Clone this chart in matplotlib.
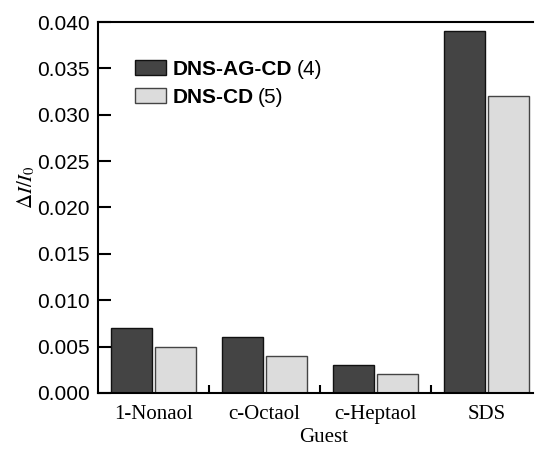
import numpy as np
import matplotlib.pyplot as plt

guests = ["1-Nonaol", "c-Octaol", "c-Heptaol", "SDS"]
dns_ag_cd = [0.007, 0.006, 0.003, 0.039]
dns_cd = [0.005, 0.004, 0.002, 0.032]
series_names = ["DNS-AG-CD", "DNS-CD"]
series_nums = ["(4)", "(5)"]

plt.rcParams['mathtext.fontset'] = 'stix'

fig = plt.figure(figsize=(5.35, 4.49), dpi=100)
ax = fig.add_axes([0.183, 0.125, 0.813, 0.826])

x = np.arange(len(guests))
w = 0.37
b1 = ax.bar(x - 0.2, dns_ag_cd, w, color="#444444", edgecolor="#111111", linewidth=1)
b2 = ax.bar(x + 0.2, dns_cd, w, color="#dcdcdc", edgecolor="#444444", linewidth=1)

ax.set_xlim(-0.5, 3.42)
ax.set_ylim(0, 0.040)
yt = np.arange(0, 0.0401, 0.005)
ax.set_yticks(yt)
ax.set_yticklabels([f"{v:.3f}" for v in yt], fontsize=15, family="Liberation Sans")
ax.set_xticks(x)
ax.set_xticklabels(guests, fontsize=15, family="Liberation Serif")
ax.set_xticks([0.5, 1.5, 2.5], minor=True)
ax.tick_params(axis="x", which="major", length=0, pad=9)
ax.tick_params(axis="x", which="minor", direction="in", length=6, width=1.5)
ax.tick_params(axis="y", direction="in", length=9, width=1.5, pad=6)
for s in ["left", "bottom", "top"]:
    ax.spines[s].set_linewidth(1.5)
ax.spines["right"].set_visible(False)

ax.set_xlabel("Guest", fontsize=15, family="Liberation Serif")
ax.xaxis.set_label_coords(0.52, -0.095)
ax.set_ylabel(r"$\Delta I/I_0$", fontsize=15)
ax.yaxis.set_label_coords(-0.14, 0.555)

leg = ax.legend([b1, b2], series_names, loc="upper left",
                bbox_to_anchor=(0.042, 0.948), frameon=False,
                handlelength=1.5, handleheight=0.72, handletextpad=0.33,
                labelspacing=0.42, prop={"family": "Liberation Sans",
                                         "weight": "bold", "size": 15})

fig.canvas.draw()
r = fig.canvas.get_renderer()
for t, num in zip(leg.get_texts(), series_nums):
    bb = t.get_window_extent(r)
    fig.text((bb.x1 + 4) / fig.bbox.width, (bb.y0 + bb.y1) / 2 / fig.bbox.height,
             num, fontsize=15, family="Liberation Sans", va="center", ha="left")

fig.savefig("out.png", dpi=100)
